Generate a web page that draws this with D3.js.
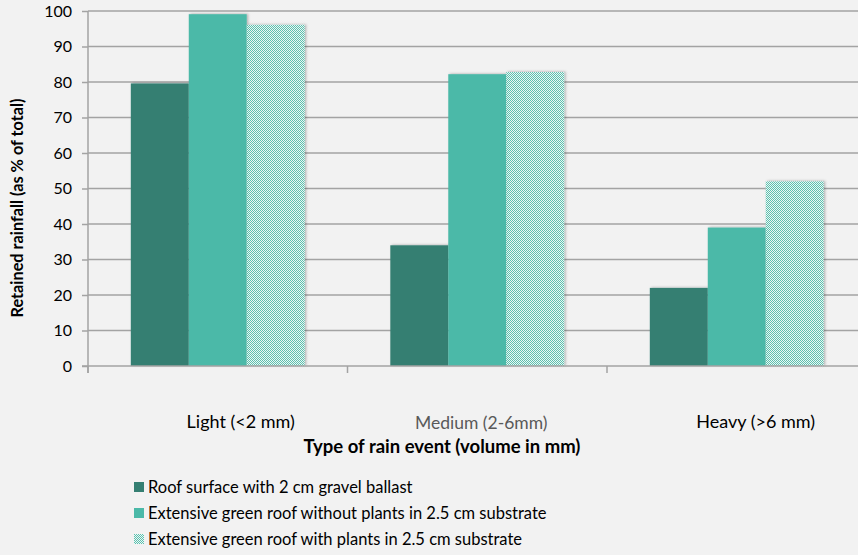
<!DOCTYPE html>
<html><head><meta charset="utf-8">
<script src="https://cdn.jsdelivr.net/npm/d3@7"></script>
<style>body{margin:0;background:#f2f2f2;}svg{display:block;font-family:Lato,"Open Sans",sans-serif;}</style>
</head><body><svg id="c" width="858" height="555"></svg>
<script>
const categories = ["Light (<2 mm)", "Medium (2-6mm)", "Heavy (>6 mm)"];
const seriesNames = ["Roof surface with 2 cm gravel ballast",
  "Extensive green roof without plants in 2.5 cm substrate",
  "Extensive green roof with plants in 2.5 cm substrate"];
const gravel = [79.6, 34, 22];
const noPlants = [99.1, 82.2, 39];
const withPlants = [96.1, 82.8, 52];
const yTicks = [0,10,20,30,40,50,60,70,80,90,100];
const labelShift = [23, 4, 19];

const svg = d3.select("#c");
const defs = svg.append("defs");
const pat = defs.append("pattern").attr("id","chk").attr("width",2).attr("height",2).attr("patternUnits","userSpaceOnUse");
pat.append("rect").attr("width",2).attr("height",2).attr("fill","#eaf7f4");
pat.append("rect").attr("x",0).attr("y",0).attr("width",1).attr("height",1).attr("fill","#5cbfae");
pat.append("rect").attr("x",1).attr("y",1).attr("width",1).attr("height",1).attr("fill","#5cbfae");
const f = defs.append("filter").attr("id","sh").attr("x","-10%").attr("y","-10%").attr("width","130%").attr("height","130%");
f.append("feDropShadow").attr("dx",1.5).attr("dy",-0.5).attr("stdDeviation",1.2).attr("flood-color","#000").attr("flood-opacity",0.25);

const x0 = 88, x1 = 866.5, yTop = 11, yBot = 366;
const x = d3.scaleBand().domain(categories).range([x0, x1]).paddingInner(0.33).paddingOuter(0.165);
const xb = d3.scaleBand().domain(categories).range([x0, x1]);
const xs = d3.scaleBand().domain([0,1,2]).range([0, x.bandwidth()]);
const y = d3.scaleLinear().domain([0,100]).range([yBot, yTop]);

// gridlines
svg.append("g").selectAll("line").data(yTicks.filter(d=>d>0)).join("line")
  .attr("x1", x0).attr("x2", 858).attr("y1", d=>y(d)).attr("y2", d=>y(d))
  .attr("stroke","#a3a3a3").attr("stroke-width",1.5);

// y axis
const ya = svg.append("g").attr("transform",`translate(${x0},0)`)
  .call(d3.axisLeft(y).tickValues(yTicks).tickSize(6).tickPadding(10));
ya.select(".domain").attr("stroke","#a3a3a3").attr("stroke-width",1.5).attr("d",`M0,${yTop}V${yBot+7}`);
ya.selectAll(".tick line").attr("stroke","#a3a3a3").attr("stroke-width",1.5);
ya.selectAll(".tick text").attr("font-size",16).attr("fill","#000").attr("font-family","Lato, 'Open Sans', sans-serif");

// bars
const series = [gravel, noPlants, withPlants];
const fills = ["#357f72", "#4bb9a8", "url(#chk)"];
series.forEach((vals, si) => {
  svg.append("g").attr("filter","url(#sh)").selectAll("rect").data(vals).join("rect")
    .attr("x", (d,i)=>x(categories[i]) + xs(si))
    .attr("width", xs.bandwidth())
    .attr("y", d=>y(d)).attr("height", d=>yBot - y(d))
    .attr("fill", fills[si]);
});

// x axis
svg.append("line").attr("x1", x0-6).attr("x2", 858).attr("y1", yBot).attr("y2", yBot)
  .attr("stroke","#a3a3a3").attr("stroke-width",1.5);
svg.append("g").selectAll("line").data(categories).join("line")
  .attr("x1", d=>xb(d)).attr("x2", d=>xb(d)).attr("y1", yBot).attr("y2", yBot+7)
  .attr("stroke","#a3a3a3").attr("stroke-width",1.5);

// category labels
svg.append("g").selectAll("text").data(categories).join("text")
  .attr("x", (d,i)=>xb(d)+xb.bandwidth()/2+labelShift[i])
  .attr("y", (d,i)=> i===1 ? 429 : 428)
  .attr("text-anchor","middle")
  .attr("font-size", (d,i)=> i===1 ? 17.5 : 18)
  .attr("fill", (d,i)=> i===1 ? "#595959" : "#000")
  .text(d=>d);

// axis titles
svg.append("text").attr("x", 442).attr("y", 453).attr("text-anchor","middle")
  .attr("font-size",18.5).attr("font-weight","bold").text("Type of rain event (volume in mm)");
svg.append("text").attr("transform","translate(23,208) rotate(-90)").attr("text-anchor","middle")
  .attr("font-size",16.3).attr("font-weight","bold").text("Retained rainfall (as % of total)");

// legend
const lg = svg.append("g").selectAll("g").data(seriesNames).join("g")
  .attr("transform",(d,i)=>`translate(134,${482 + i*26})`);
lg.append("rect").attr("width",10).attr("height",10).attr("fill",(d,i)=>fills[i]);
lg.append("text").attr("x",14).attr("y",11).attr("font-size",16.5).attr("fill","#000").text(d=>d);
</script></body></html>
